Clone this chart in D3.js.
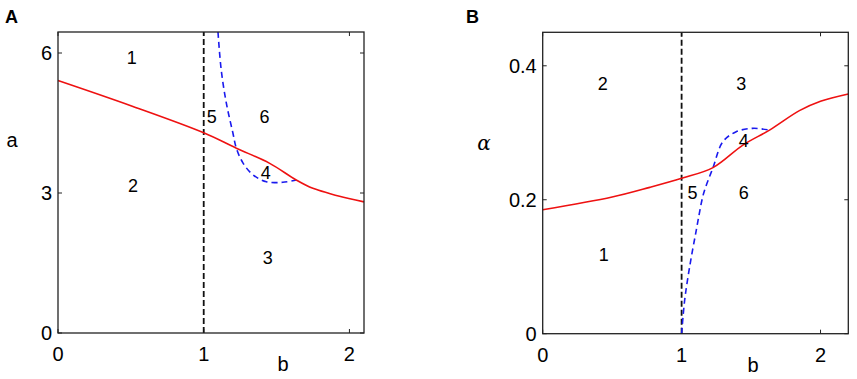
<!DOCTYPE html>
<html>
<head>
<meta charset="utf-8">
<script src="https://cdn.jsdelivr.net/npm/d3@7"></script>
<style>
  body { margin: 0; background: #fff; }
  text { font-family: "Liberation Sans", Arial, sans-serif; }
</style>
</head>
<body>
<svg id="chart" width="857" height="379"></svg>
<script>
// ---- panel A data (b vs a) ----
const aRedB = [0, 0.5, 1.0, 1.224, 1.45, 1.635, 1.749, 1.863, 1.932, 2.1]
const aRedA = [5.41, 4.87, 4.29, 3.96, 3.64, 3.28, 3.10, 2.99, 2.93, 2.81]
const aBlueB = [1.098, 1.12, 1.155, 1.2, 1.224, 1.27, 1.338, 1.43, 1.543, 1.635]
const aBlueA = [6.45, 5.64, 4.93, 4.29, 3.96, 3.64, 3.39, 3.24, 3.23, 3.28]
const aXTicks = [0, 1, 2]
const aYTicks = [0, 3, 6]
const aRegions = [["1", 0.507, 5.89], ["5", 1.055, 4.63], ["6", 1.418, 4.63],
                  ["4", 1.425, 3.43], ["2", 0.514, 3.15], ["3", 1.44, 1.61]]

// ---- panel B data (b vs alpha) ----
const bRedB = [0, 0.5, 0.771, 1.0, 1.226, 1.441, 1.633, 1.848, 2.0, 2.2]
const bRedA = [0.185, 0.204, 0.2185, 0.232, 0.248, 0.2816, 0.304, 0.333, 0.347, 0.358]
const bBlueB = [1.0, 1.022, 1.058, 1.106, 1.147, 1.166, 1.226, 1.297, 1.393, 1.513, 1.633]
const bBlueA = [0, 0.05, 0.1, 0.155, 0.2, 0.2145, 0.248, 0.2866, 0.3015, 0.3066, 0.304]
const bXTicks = [0, 1, 2]
const bYTicks = [0, 0.2, 0.4]
const bRegions = [["2", 0.433, 0.373], ["3", 1.43, 0.373], ["4", 1.448, 0.288],
                  ["5", 1.078, 0.21], ["6", 1.448, 0.21], ["1", 0.44, 0.117]]

const svg = d3.select("#chart")

function panel(opt) {
  const x = d3.scaleLinear().domain(opt.xDom).range([opt.x0, opt.x1])
  const y = d3.scaleLinear().domain(opt.yDom).range([opt.y0, opt.y1])
  const g = svg.append("g")

  // ticks, inward, mirrored on top/right
  opt.xTicks.forEach(t => {
    g.append("line").attr("x1", x(t)).attr("x2", x(t)).attr("y1", opt.y0).attr("y2", opt.y0 - 4)
      .attr("stroke", "#222").attr("stroke-width", 1)
    g.append("line").attr("x1", x(t)).attr("x2", x(t)).attr("y1", opt.y1).attr("y2", opt.y1 + 4)
      .attr("stroke", "#222").attr("stroke-width", 1)
    g.append("text").attr("x", x(t)).attr("y", opt.y0 + 28)
      .attr("text-anchor", "middle").style("font-size", "20px").text(t)
  })
  opt.yTicks.forEach(t => {
    g.append("line").attr("x1", opt.x0).attr("x2", opt.x0 + 4).attr("y1", y(t)).attr("y2", y(t))
      .attr("stroke", "#222").attr("stroke-width", 1)
    g.append("line").attr("x1", opt.x1).attr("x2", opt.x1 - 4).attr("y1", y(t)).attr("y2", y(t))
      .attr("stroke", "#222").attr("stroke-width", 1)
    g.append("text").attr("x", opt.x0 - 6).attr("y", y(t) + 7)
      .attr("text-anchor", "end").style("font-size", "20px").text(t)
  })

  // vertical dashed line at b = 1
  g.append("line").attr("x1", x(1)).attr("x2", x(1)).attr("y1", opt.y0).attr("y2", opt.y1)
    .attr("stroke", "#111").attr("stroke-width", 1.8).attr("stroke-dasharray", "6,3")

  const line = d3.line().x(d => x(d[0])).y(d => y(d[1])).curve(d3.curveCatmullRom.alpha(0.5))

  g.append("path").datum(d3.zip(opt.blueX, opt.blueY)).attr("d", line)
    .attr("fill", "none").attr("stroke", "#1a1aee").attr("stroke-width", 1.6)
    .attr("stroke-dasharray", "6,4")
  g.append("path").datum(d3.zip(opt.redX, opt.redY)).attr("d", line)
    .attr("fill", "none").attr("stroke", "#ee1111").attr("stroke-width", 1.6)

  opt.regions.forEach(r => {
    g.append("text").attr("x", x(r[1])).attr("y", y(r[2]) + 6)
      .attr("text-anchor", "middle").style("font-size", "18px").text(r[0])
  })

  // box
  g.append("rect").attr("x", opt.x0).attr("y", opt.y1)
    .attr("width", opt.x1 - opt.x0).attr("height", opt.y0 - opt.y1)
    .attr("fill", "none").attr("stroke", "#222").attr("stroke-width", 1.3)

  g.append("text").attr("x", opt.letterX).attr("y", 23)
    .style("font-size", "18px").style("font-weight", "bold").text(opt.letter)
  return g
}

const gA = panel({
  xDom: [0, 2.1], yDom: [0, 6.45], x0: 58, x1: 364, y0: 333, y1: 32,
  xTicks: aXTicks, yTicks: aYTicks, redX: aRedB, redY: aRedA,
  blueX: aBlueB, blueY: aBlueA, regions: aRegions, letter: "A", letterX: 5
})
gA.append("text").attr("x", 12).attr("y", 147).attr("text-anchor", "middle")
  .style("font-size", "20px").text("a")
gA.append("text").attr("x", 283).attr("y", 371).attr("text-anchor", "middle")
  .style("font-size", "20px").text("b")

const gB = panel({
  xDom: [0, 2.2], yDom: [0, 0.45], x0: 542.7, x1: 848.3, y0: 333.7, y1: 32.3,
  xTicks: bXTicks, yTicks: bYTicks, redX: bRedB, redY: bRedA,
  blueX: bBlueB, blueY: bBlueA, regions: bRegions, letter: "B", letterX: 466
})
gB.append("text").attr("x", 484).attr("y", 150).attr("text-anchor", "middle")
  .style("font-family", "'DejaVu Serif', serif").style("font-style", "italic")
  .style("font-size", "20px").text("α")
gB.append("text").attr("x", 753).attr("y", 372).attr("text-anchor", "middle")
  .style("font-size", "20px").text("b")
</script>
</body>
</html>
